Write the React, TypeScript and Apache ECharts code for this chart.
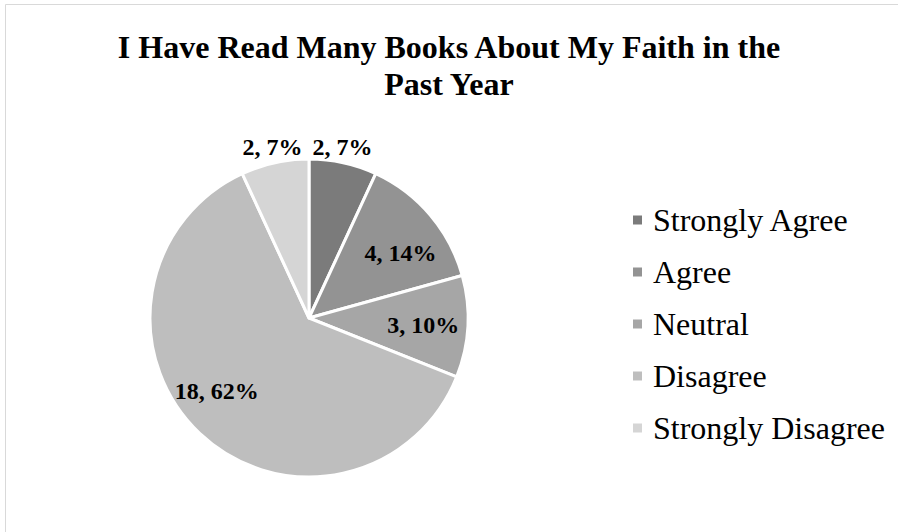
import React, { useEffect, useRef } from 'react';
import * as echarts from 'echarts';

const categories = ['Strongly Agree', 'Agree', 'Neutral', 'Disagree', 'Strongly Disagree'];
const counts = [2, 4, 3, 18, 2];
const sliceColors = ['#7b7b7b', '#939393', '#a6a6a6', '#bebebe', '#d5d5d5'];
const titleLines = ['I Have Read Many Books About My Faith in the', 'Past Year'];
// small style nudges for label placement (px)
const labelNudge = [[-34, 0], [8, 6], [5, 1], [-17, -6], [31, 0]];
const outsideSlices = [0, 4];

export default function App() {
  const ref = useRef<HTMLDivElement>(null);
  useEffect(() => {
    const chart = echarts.init(ref.current!, null, { renderer: 'svg' });
    const font = '"Liberation Serif", "Times New Roman", serif';
    const center = [309, 318];
    chart.setOption({
      animation: false,
      backgroundColor: '#ffffff',
      title: {
        text: titleLines.join('\n'),
        left: 'center',
        top: 23,
        textStyle: { fontFamily: font, fontSize: 32, fontWeight: 'bold', color: '#000', lineHeight: 37 },
      },
      legend: {
        orient: 'vertical',
        left: 626,
        top: 196,
        itemWidth: 11,
        itemHeight: 11,
        itemGap: 14,
        icon: 'rect',
        selectedMode: false,
        textStyle: { fontFamily: font, fontSize: 32, color: '#000', lineHeight: 38, padding: [0, 0, 0, 5] },
        data: categories,
      },
      graphic: [
        {
          type: 'rect',
          silent: true,
          shape: { x: 5.5, y: 4.5, width: 1000, height: 1000 },
          style: { fill: 'none', stroke: '#d9d9d9', lineWidth: 1 },
        },
      ],
      series: [
        {
          type: 'pie',
          radius: 159,
          center,
          startAngle: 90,
          clockwise: true,
          silent: true,
          label: { show: false },
          labelLine: { show: false },
          itemStyle: { borderColor: '#ffffff', borderWidth: 3 },
          emphasis: { disabled: true },
          data: categories.map((name, i) => ({ name, value: counts[i], itemStyle: { color: sliceColors[i] } })),
        },
        {
          type: 'pie',
          radius: [54, 159],
          center,
          startAngle: 90,
          clockwise: true,
          silent: true,
          avoidLabelOverlap: false,
          legendHoverLink: false,
          itemStyle: { color: 'rgba(0,0,0,0)', borderWidth: 0 },
          emphasis: { disabled: true },
          label: {
            show: true,
            position: 'inside',
            formatter: (p: any) => `${p.value}, ${Math.round(p.percent)}%`,
            fontFamily: font,
            fontSize: 24,
            fontWeight: 'bold',
            color: '#000',
          },
          labelLine: { show: false },
          labelLayout: (p: any) => ({ dx: labelNudge[p.dataIndex][0], dy: labelNudge[p.dataIndex][1] }),
          data: categories.map((name, i) =>
            outsideSlices.includes(i)
              ? {
                  name,
                  value: counts[i],
                  label: { position: 'outside', distanceToLabelLine: 0 },
                  labelLine: { show: false, length: 16, length2: 0 },
                }
              : { name, value: counts[i] }
          ),
        },
      ],
    });
    return () => chart.dispose();
  }, []);
  return <div ref={ref} style={{ position: 'absolute', left: 0, top: 0, width: 898, height: 532 }} />;
}
